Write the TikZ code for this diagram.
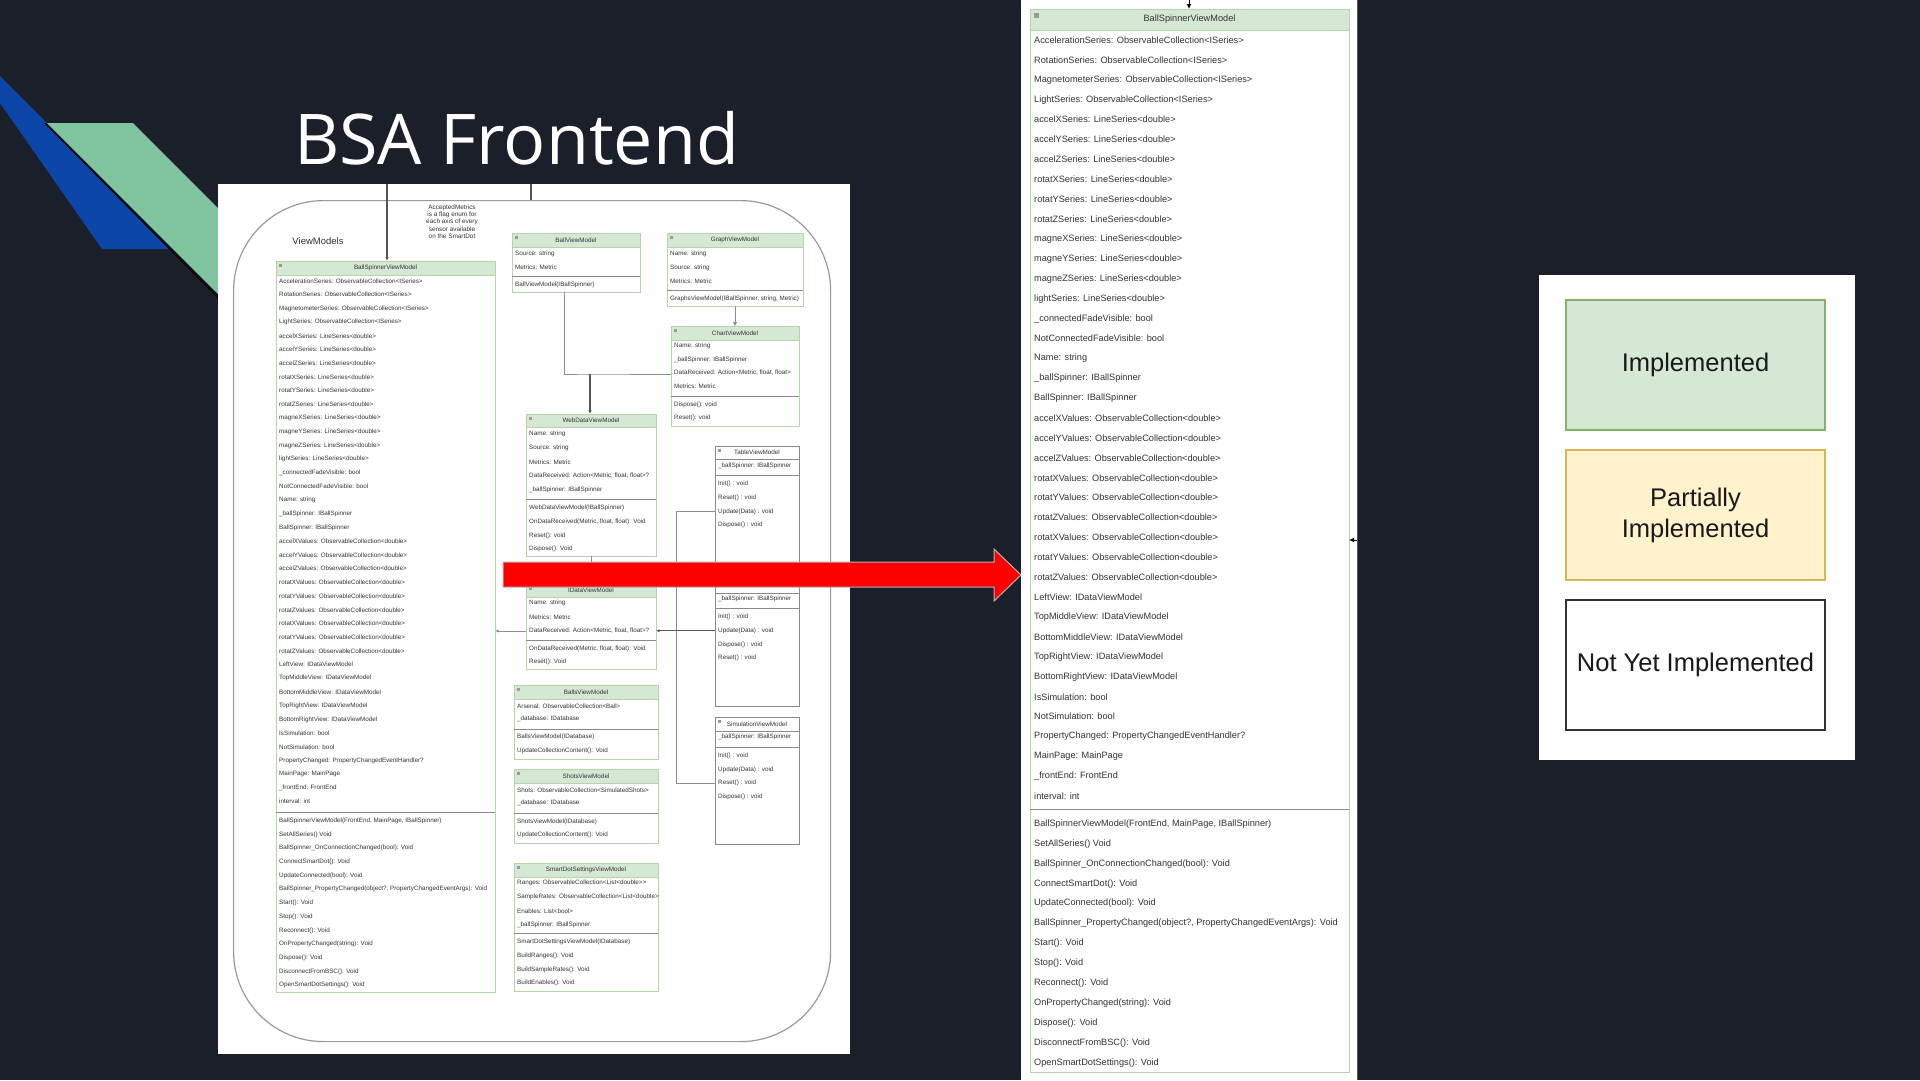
\documentclass[tikz,border=0pt]{standalone}
\usepackage{fontspec}
\setmainfont{Liberation Sans}
\newfontfamily\titlefont{Open Sans}
\usetikzlibrary{arrows.meta}

\definecolor{slidebg}{RGB}{27,31,42}
\definecolor{bandblue}{RGB}{11,70,168}
\definecolor{bandgreen}{RGB}{128,196,160}
\definecolor{hdrgreen}{HTML}{D5E8D4}
\definecolor{edgegreen}{HTML}{B3D5A9}
\definecolor{legendgreen}{HTML}{82B366}
\definecolor{hdryellow}{HTML}{FFF2CC}
\definecolor{edgeyellow}{HTML}{D6B656}
\definecolor{txtcol}{HTML}{333333}
\definecolor{linegray}{HTML}{8E8E8E}
\definecolor{darkline}{HTML}{555555}
\definecolor{framegray}{HTML}{9A9A9A}
\definecolor{boxgray}{HTML}{8A8A8A}
\definecolor{sepgray}{HTML}{8A8A8A}
\definecolor{icongray}{HTML}{9A9A9A}

\tikzset{
  implbox/.style={draw=edgegreen, fill=white, line width=0.9, inner sep=0, outer sep=0},
  implbox head/.style={draw=edgegreen, fill=hdrgreen, line width=0.9, inner sep=0, outer sep=0},
  todobox/.style={draw=boxgray, fill=white, line width=1, inner sep=0, outer sep=0},
  todobox head/.style={draw=boxgray, fill=white, line width=1, inner sep=0, outer sep=0},
  rowtxt/.style={font=\fontsize{6.3}{7}\selectfont, text=txtcol, inner sep=0},
  bigtxt/.style={font=\fontsize{9.2}{10}\selectfont, text=txtcol, inner sep=0},
  sepline/.style={draw=sepgray, line width=0.9},
  conn/.style={draw=linegray, line width=1},
  darkconn/.style={draw=darkline, line width=1.3},
  tipS/.tip={Latex[length=3.5pt,width=3pt]},
  legendbox/.style={minimum width=259, minimum height=130, line width=2, inner sep=0,
    align=center, font=\fontsize{25.5}{31}\selectfont, text=black!90},
}

\def\iconsz{3pt}
\def\iconoff{2.5pt}

% class frame: name, style, x1, x2, top, header bottom, bottom, title, title style
\newcommand\classframe[9]{%
  \node[#2, anchor=north west, minimum width={(#4)-(#3)}, minimum height={(#7)-(#5)}] (#1) at (#3,#5) {};
  \node[#2 head, anchor=north west, minimum width={(#4)-(#3)}, minimum height={(#6)-(#5)}] (#1-h) at (#3,#5) {};
  \node[#9] (#1-t) at (#1-h.center) {#8};
  \fill[icongray] ([xshift=\iconoff, yshift=-\iconoff]#1-h.north west) rectangle +(\iconsz,-\iconsz);
}
% rows of a compartment: prefix, style, x, first y, step, list macro
\newcommand\rows[6]{%
  \foreach \t [count=\i from 0] in #6 {\node[#2, anchor=west] (#1\i) at (#3,{#4+\i*#5}) {\t};}
}
\newcommand\sepat[2]{\draw[sepline] (#1.west |- 0,#2) -- (#1.east |- 0,#2);}

% member lists
\def\bsvmattrs{{AccelerationSeries: ObservableCollection<ISeries>},
{RotationSeries: ObservableCollection<ISeries>},
{MagnetometerSeries: ObservableCollection<ISeries>},
{LightSeries: ObservableCollection<ISeries>},
{accelXSeries: LineSeries<double>},
{accelYSeries: LineSeries<double>},
{accelZSeries: LineSeries<double>},
{rotatXSeries: LineSeries<double>},
{rotatYSeries: LineSeries<double>},
{rotatZSeries: LineSeries<double>},
{magneXSeries: LineSeries<double>},
{magneYSeries: LineSeries<double>},
{magneZSeries: LineSeries<double>},
{lightSeries: LineSeries<double>},
{\_connectedFadeVisible: bool},
{NotConnectedFadeVisible: bool},
{Name: string},
{\_ballSpinner: IBallSpinner},
{BallSpinner: IBallSpinner},
{accelXValues: ObservableCollection<double>},
{accelYValues: ObservableCollection<double>},
{accelZValues: ObservableCollection<double>},
{rotatXValues: ObservableCollection<double>},
{rotatYValues: ObservableCollection<double>},
{rotatZValues: ObservableCollection<double>},
{rotatXValues: ObservableCollection<double>},
{rotatYValues: ObservableCollection<double>},
{rotatZValues: ObservableCollection<double>},
{LeftView: IDataViewModel},
{TopMiddleView: IDataViewModel},
{BottomMiddleView: IDataViewModel},
{TopRightView: IDataViewModel},
{BottomRightView: IDataViewModel},
{IsSimulation: bool},
{NotSimulation: bool},
{PropertyChanged: PropertyChangedEventHandler?},
{MainPage: MainPage},
{\_frontEnd: FrontEnd},
{interval: int}}
\def\bsvmops{{BallSpinnerViewModel(FrontEnd, MainPage, IBallSpinner)},
{SetAllSeries() Void},
{BallSpinner\_OnConnectionChanged(bool): Void},
{ConnectSmartDot(): Void},
{UpdateConnected(bool): Void},
{BallSpinner\_PropertyChanged(object?, PropertyChangedEventArgs): Void},
{Start(): Void},
{Stop(): Void},
{Reconnect(): Void},
{OnPropertyChanged(string): Void},
{Dispose(): Void},
{DisconnectFromBSC(): Void},
{OpenSmartDotSettings(): Void}}
\def\ballattrs{{Source: string},{Metrics: Metric}}
\def\ballops{{BallViewModel(IBallSpinner)}}
\def\graphattrs{{Name: string},{Source: string},{Metrics: Metric}}
\def\graphops{{GraphsViewModel(IBallSpinner, string, Metric)}}
\def\chartattrs{{Name: string},{\_ballSpinner: IBallSpinner},{DataReceived: Action<Metric, float, float>},{Metrics: Metric}}
\def\chartops{{Dispose(): void},{Reset(): void}}
\def\webattrs{{Name: string},{Source: string},{Metrics: Metric},{DataReceived: Action<Metric, float, float>?},{\_ballSpinner: IBallSpinner}}
\def\webops{{WebDataViewModel(IBallSpinner)},{OnDataReceived(Metric, float, float): Void},{Reset(): void},{Dispose(): Void}}
\def\idattrs{{Name: string},{Metrics: Metric},{DataReceived: Action<Metric, float, float>?}}
\def\idops{{OnDataReceived(Metric, float, float): Void},{Reset(): Void}}
\def\spinattr{{\_ballSpinner: IBallSpinner}}
\def\tblaops{{Init() : void},{Reset() : void},{Update(Data) : void},{Dispose() : void}}
\def\tblbops{{Init() : void},{Update(Data) : void},{Dispose() : void},{Reset() : void}}
\def\simops{{Init() : void},{Update(Data) : void},{Reset() : void},{Dispose() : void}}
\def\ballsattrs{{Arsenal: ObservableCollection<Ball>},{\_database: IDatabase}}
\def\ballsops{{BallsViewModel(IDatabase)},{UpdateCollectionContent(): Void}}
\def\shotsattrs{{Shots: ObservableCollection<SimulatedShots>},{\_database: IDatabase}}
\def\shotsops{{ShotsViewModel(IDatabase)},{UpdateCollectionContent(): Void}}
\def\smartattrs{{Ranges: ObservableCollection<List<double>{}>},{SampleRates: ObservableCollection<List<double>},{Enables: List<bool>},{\_ballSpinner: IBallSpinner}}
\def\smartops{{SmartDotSettingsViewModel(IDatabase)},{BuildRanges(): Void},{BuildSampleRates(): Void},{BuildEnables(): Void}}

\begin{document}
\begin{tikzpicture}[x=1pt,y=-1pt]
% slide background
\fill[slidebg] (0,0) rectangle (1920,1080);
\useasboundingbox (0,0) rectangle (1920,1080);

% decorative bands
\fill[bandblue] (0,76) -- (0,103) -- (102,249) -- (173,249) -- cycle;
\fill[black!60!slidebg] (44,123) -- (47,123) -- (247,323) -- (242,323) -- cycle;
\fill[bandgreen] (47,123) -- (133,123) -- (333,323) -- (247,323) -- cycle;

% title
\node[anchor=base west, text=white, font=\titlefont\fontsize{70}{80}\selectfont, inner sep=0] (title) at (294,164) {BSA Frontend};

% ---------- overview diagram ----------
\node[fill=white, anchor=north west, minimum width=632, minimum height=870, inner sep=0] (leftpanel) at (218,184) {};
\node[draw=framegray, line width=1.2, rounded corners=90, anchor=north west, minimum width=597, minimum height=841, inner sep=0] (vmgroup) at (233,200) {};

\node[font=\fontsize{9.5}{11}\selectfont, text=txtcol, inner sep=0] (vmlabel) at (318,241) {ViewModels};
\node[align=center, font=\fontsize{6.4}{7.3}\selectfont, text=txtcol, inner sep=0] (note) at (452,221.5)
  {AcceptedMetrics\\is a flag enum for\\each axis of every\\sensor available\\on the SmartDot};

% BallSpinnerViewModel
\classframe{bsvm}{implbox}{276}{495}{261}{275}{992}{BallSpinnerViewModel}{rowtxt}
\rows{bsvm-a}{rowtxt}{279}{281}{13.7}{\bsvmattrs}
\sepat{bsvm}{812}
\rows{bsvm-m}{rowtxt}{279}{821}{13.67}{\bsvmops}

% BallViewModel
\classframe{ballvm}{implbox}{512}{640}{233}{247}{292}{BallViewModel}{rowtxt}
\rows{ballvm-a}{rowtxt}{515}{254}{13}{\ballattrs}
\sepat{ballvm}{276}
\rows{ballvm-m}{rowtxt}{515}{285}{13}{\ballops}

% GraphViewModel
\classframe{graph}{implbox}{667}{803}{233}{247}{306}{GraphViewModel}{rowtxt}
\rows{graph-a}{rowtxt}{670}{254}{13.5}{\graphattrs}
\sepat{graph}{290}
\rows{graph-m}{rowtxt}{670}{299}{13}{\graphops}

% ChartViewModel
\classframe{chart}{implbox}{671}{799}{326}{340}{426}{ChartViewModel}{rowtxt}
\rows{chart-a}{rowtxt}{674}{346}{13.4}{\chartattrs}
\sepat{chart}{396}
\rows{chart-m}{rowtxt}{674}{405}{13}{\chartops}

% WebDataViewModel
\classframe{webdata}{implbox}{526}{656}{414}{427}{556}{WebDataViewModel}{rowtxt}
\rows{webdata-a}{rowtxt}{529}{434}{14}{\webattrs}
\sepat{webdata}{499}
\rows{webdata-m}{rowtxt}{529}{508}{13.7}{\webops}

% IDataViewModel
\classframe{idata}{implbox}{526}{656}{584}{597}{669}{IDataViewModel}{rowtxt}
\rows{idata-a}{rowtxt}{529}{603}{14}{\idattrs}
\sepat{idata}{640}
\rows{idata-m}{rowtxt}{529}{649}{13}{\idops}

% TableViewModel and its sibling
\classframe{tbla}{todobox}{715}{799}{446}{459}{568}{TableViewModel}{rowtxt}
\rows{tbla-a}{rowtxt}{718}{466}{13}{\spinattr}
\sepat{tbla}{475}
\rows{tbla-m}{rowtxt}{718}{484}{13.7}{\tblaops}

\classframe{tblb}{todobox}{715}{799}{579}{593}{706}{}{rowtxt}
\rows{tblb-a}{rowtxt}{718}{599}{13}{\spinattr}
\sepat{tblb}{608}
\rows{tblb-m}{rowtxt}{718}{617}{13.7}{\tblbops}

% SimulationViewModel
\classframe{sim}{todobox}{715}{799}{717}{731}{844}{SimulationViewModel}{rowtxt}
\rows{sim-a}{rowtxt}{718}{737}{13}{\spinattr}
\sepat{sim}{747}
\rows{sim-m}{rowtxt}{718}{756}{13.6}{\simops}

% BallsViewModel
\classframe{balls}{implbox}{514}{658}{685}{699}{759}{BallsViewModel}{rowtxt}
\rows{balls-a}{rowtxt}{517}{706}{13}{\ballsattrs}
\sepat{balls}{729}
\rows{balls-m}{rowtxt}{517}{737}{14}{\ballsops}

% ShotsViewModel
\classframe{shots}{implbox}{514}{658}{769}{783}{843}{ShotsViewModel}{rowtxt}
\rows{shots-a}{rowtxt}{517}{790}{13}{\shotsattrs}
\sepat{shots}{813}
\rows{shots-m}{rowtxt}{517}{822}{13}{\shotsops}

% SmartDotSettingsViewModel
\classframe{smart}{implbox}{514}{658}{863}{877}{991}{SmartDotSettingsViewModel}{rowtxt}
\rows{smart-a}{rowtxt}{517}{883}{14}{\smartattrs}
\sepat{smart}{933}
\rows{smart-m}{rowtxt}{517}{942}{13.7}{\smartops}

% connectors
\coordinate (feedA) at (387,184);
\coordinate (feedB) at (531,184);
\draw[darkconn, -{Latex[length=4pt,width=3.5pt]}] (feedA) -- (feedA |- bsvm.north);
\draw[darkconn] (feedB) -- (feedB |- vmgroup.north);
\draw[conn, -{Triangle[open,length=4pt,width=4pt]}] (graph.south) -- (chart.north);
\coordinate (j1) at (590,374);
\draw[conn] ([xshift=-12pt]ballvm.south) |- (j1) -- (j1 -| chart.west);
\draw[darkconn, -{Latex[length=4pt,width=3.5pt]}] (j1) -- (j1 |- webdata.north);
\draw[conn] (webdata.south) -- (idata.north);
\draw[conn, -tipS] (idata.west |- idata-a2) -- (bsvm.east |- idata-a2);
\coordinate (bus) at (676,631);
\draw[conn] (tbla.west |- tbla-m2) -| (bus);
\draw[conn] (sim.west |- sim-m2) -| (bus);
\draw[conn, -tipS, draw=darkline] (tblb.west |- tblb-m1) -- (idata.east |- tblb-m1);

% ---------- enlarged BallSpinnerViewModel ----------
\node[fill=white, anchor=north west, minimum width=336, minimum height=1080, inner sep=0] (rightpanel) at (1021,0) {};
\draw[darkline, line width=1.5] (rightpanel.north east) -- (rightpanel.south east);
\def\iconsz{5pt}
\def\iconoff{4pt}
\classframe{bigvm}{implbox}{1030}{1349}{9}{30}{1072}{BallSpinnerViewModel}{bigtxt}
\rows{bigvm-a}{bigtxt}{1034}{40}{19.9}{\bsvmattrs}
\sepat{bigvm}{809}
\rows{bigvm-m}{bigtxt}{1034}{824}{19.9}{\bsvmops}
\coordinate (bigin) at (1189,0);
\draw[black, line width=1, -{Latex[length=5pt,width=5pt]}] (bigin) -- (bigin |- bigvm.north);
\coordinate (bigside) at (1357,540);
\draw[black, line width=1, -{Latex[length=5pt,width=5pt]}] (bigside) -- (bigside -| bigvm.east);

% pointer from overview to enlargement
\filldraw[fill=red, draw=gray!60, line width=1] (503,562) -- (994,562) -- (994,549) -- (1021,575) -- (994,601) -- (994,587) -- (503,587) -- cycle;

% ---------- legend ----------
\node[fill=white, anchor=north west, minimum width=316, minimum height=485, inner sep=0] (legend) at (1539,275) {};
\node[legendbox, fill=hdrgreen, draw=legendgreen] (lgimpl) at (1695.5,365) {Implemented};
\node[legendbox, fill=hdryellow, draw=edgeyellow] (lgpart) at (1695.5,515) {Partially\\Implemented};
\node[legendbox, fill=white, draw=black!80] (lgnone) at (1695.5,665) {Not Yet Implemented};
\end{tikzpicture}
\end{document}
